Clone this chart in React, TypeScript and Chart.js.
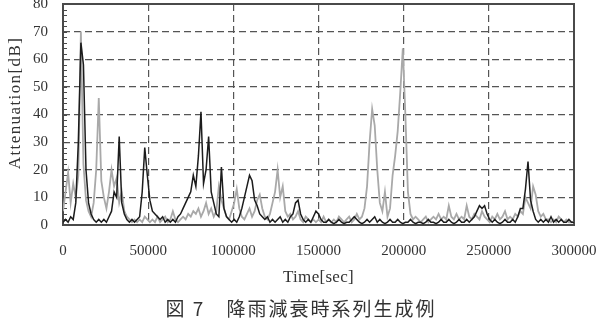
import React, { useEffect, useRef } from "react";
import { Chart, registerables } from "chart.js";

Chart.register(...registerables);

// Sampling interval of the time series (seconds)
const SAMPLE_INTERVAL_SEC = 1500;

// Dark (black) attenuation series [dB]
const darkAttenuation = [
  1, 2, 1, 3, 2, 8, 30, 66, 58, 20,
  8, 4, 2, 1, 2, 1, 2, 1, 3, 5,
  12, 10, 32, 8, 4, 2, 1, 2, 1, 2,
  3, 12, 28, 18, 9, 5, 4, 3, 2, 3,
  1, 2, 1, 2, 1, 3, 4, 6, 8, 10,
  12, 18, 14, 25, 41, 15, 20, 32, 12, 8,
  4, 3, 21, 6, 3, 2, 1, 2, 1, 3,
  6, 10, 14, 18, 16, 9, 7, 4, 3, 2,
  3, 1, 2, 1, 2, 3, 1, 2, 1, 3,
  4, 8, 9, 4, 2, 1, 2, 1, 3, 5,
  4, 2, 1, 1, 2, 1, 0.5, 1, 2, 1,
  0.5, 1, 1, 2, 3, 2, 1, 0.5, 1, 2,
  1, 2, 3, 1, 2, 1, 0.5, 1, 2, 1,
  1, 2, 1, 0.5, 1, 1, 2, 1, 0.5, 1,
  1, 0.5, 1, 2, 1, 1, 0.5, 1, 2, 1,
  1, 2, 1, 0.5, 1, 2, 1, 1, 2, 1,
  2, 3, 5, 7, 6, 7, 4, 2, 1, 2,
  1, 0.5, 1, 2, 1, 1, 2, 1, 3, 6,
  6, 13, 23, 9, 5, 2, 1, 2, 1, 2,
  1, 3, 1, 2, 1, 2, 1, 1, 2, 1,
  1,
];

// Light gray attenuation series [dB]
const grayAttenuation = [
  5, 12, 19, 8, 15, 10, 18, 70, 22, 9,
  5, 3, 8, 20, 46, 16, 10, 6, 12, 20,
  14, 17, 8, 12, 5, 3, 2, 1, 2, 1,
  2, 1, 3, 2, 1, 2, 1, 3, 1, 2,
  3, 1, 2, 5, 2, 1, 2, 3, 2, 4,
  3, 5, 4, 6, 3, 5, 8, 4, 6, 3,
  5, 14, 9, 6, 3, 2, 5, 8, 13, 6,
  3, 2, 4, 6, 3, 5, 9, 11, 6, 3,
  2, 4, 8, 12, 20, 10, 14, 5, 3, 4,
  2, 3, 5, 2, 1, 3, 2, 1, 2, 1,
  2, 1, 3, 1, 2, 1, 2, 1, 3, 2,
  1, 2, 3, 1, 2, 4, 2, 3, 6, 14,
  30, 42, 36, 20, 8, 5, 12, 3, 6, 18,
  25, 34, 48, 64, 40, 12, 4, 2, 3, 2,
  1, 2, 3, 1, 2, 3, 2, 4, 2, 3,
  2, 7, 3, 2, 4, 2, 3, 2, 7, 3,
  2, 4, 3, 2, 5, 3, 2, 1, 3, 2,
  4, 2, 3, 5, 2, 3, 2, 4, 3, 5,
  4, 10, 8, 6, 14, 11, 5, 3, 4, 2,
  2, 1, 2, 1, 3, 2, 1, 2, 1, 1,
  1,
];

const sampleTimes = darkAttenuation.map((_, i) => i * SAMPLE_INTERVAL_SEC);

const xTickValues = [0, 50000, 100000, 150000, 200000, 250000, 300000];
const yTickValues = [0, 10, 20, 30, 40, 50, 60, 70, 80];
const yMinorStep = 2;

const xTitle = "Time[sec]";
const yTitle = "Attenuation[dB]";
const caption = "図 7　降雨減衰時系列生成例";

const SERIF = "'Liberation Serif', 'Times New Roman', serif";
const CJK = "'Noto Sans CJK JP', 'Noto Sans CJK SC', sans-serif";
const TEXT_COLOR = "#333";
const GRID_COLOR = "#555";

const frameAndTextPlugin = {
  id: "frameAndText",
  beforeDatasetsDraw(chart: any) {
    const { ctx, chartArea: a } = chart;
    const yScale = chart.scales.y;
    ctx.save();
    ctx.strokeStyle = "#4a4a4a";
    ctx.lineWidth = 1;
    const yMax = yTickValues[yTickValues.length - 1];
    for (let v = 0; v <= yMax; v += yMinorStep) {
      const py = Math.round(yScale.getPixelForValue(v)) + 0.5;
      ctx.beginPath();
      ctx.moveTo(a.left, py);
      ctx.lineTo(a.left + 4, py);
      ctx.stroke();
    }
    ctx.lineWidth = 2;
    ctx.strokeStyle = "#4a4a4a";
    ctx.strokeRect(a.left, a.top, a.right - a.left, a.bottom - a.top);
    ctx.restore();
  },
  afterDraw(chart: any) {
    const { ctx, chartArea: a } = chart;
    ctx.save();
    ctx.fillStyle = TEXT_COLOR;
    ctx.textBaseline = "middle";
    ctx.textAlign = "center";
    ctx.font = `17px ${SERIF}`;
    (ctx as any).letterSpacing = "0.3px";
    ctx.fillText(xTitle, (a.left + a.right) / 2, 278);
    ctx.restore();

    ctx.save();
    ctx.fillStyle = TEXT_COLOR;
    ctx.textBaseline = "middle";
    ctx.textAlign = "center";
    ctx.font = `17px ${SERIF}`;
    (ctx as any).letterSpacing = "1.4px";
    ctx.translate(16, 103);
    ctx.rotate(-Math.PI / 2);
    ctx.fillText(yTitle, 0, 0);
    ctx.restore();

    ctx.save();
    ctx.fillStyle = TEXT_COLOR;
    ctx.textBaseline = "middle";
    ctx.textAlign = "center";
    ctx.font = `19px ${CJK}`;
    (ctx as any).letterSpacing = "2px";
    ctx.fillText(caption, 301, 309);
    ctx.restore();
  },
};

export default function App() {
  const canvasRef = useRef<HTMLCanvasElement | null>(null);

  useEffect(() => {
    document.body.style.margin = "0";
    const canvas = canvasRef.current;
    if (!canvas) return;

    const chart = new Chart(canvas, {
      type: "line",
      data: {
        datasets: [
          {
            label: "dark",
            data: sampleTimes.map((t, i) => ({ x: t, y: darkAttenuation[i] })),
            borderColor: "#1c1c1c",
            borderWidth: 1.5,
            pointRadius: 0,
            tension: 0,
            fill: false,
          },
          {
            label: "gray",
            data: sampleTimes.map((t, i) => ({ x: t, y: grayAttenuation[i] })),
            borderColor: "#a9a9a9",
            borderWidth: 1.8,
            pointRadius: 0,
            tension: 0,
            fill: false,
          },
        ],
      },
      options: {
        animation: false,
        responsive: false,
        maintainAspectRatio: false,
        layout: { padding: { left: 0, right: 26, top: 4, bottom: 0 } },
        plugins: {
          legend: { display: false },
          tooltip: { enabled: false },
        },
        scales: {
          x: {
            type: "linear",
            position: "bottom",
            min: xTickValues[0],
            max: xTickValues[xTickValues.length - 1],
            afterBuildTicks: (ax: any) => {
              ax.ticks = xTickValues.map((v) => ({ value: v }));
            },
            ticks: {
              font: { family: SERIF, size: 15 },
              color: TEXT_COLOR,
              padding: 17,
              maxRotation: 0,
              autoSkip: false,
              callback: (v: any) => String(v),
            },
            grid: { color: GRID_COLOR, lineWidth: 1.2, drawTicks: false },
            border: { display: false, dash: [7, 4] },
            afterFit: (ax: any) => {
              ax.height = 105;
              ax.paddingLeft = 0;
              ax.paddingRight = 0;
            },
          },
          y: {
            type: "linear",
            min: yTickValues[0],
            max: yTickValues[yTickValues.length - 1],
            afterBuildTicks: (ax: any) => {
              ax.ticks = yTickValues.map((v) => ({ value: v }));
            },
            ticks: {
              font: { family: SERIF, size: 15 },
              color: TEXT_COLOR,
              padding: 15,
              callback: (v: any) => String(v),
            },
            grid: { color: GRID_COLOR, lineWidth: 1.2, drawTicks: false },
            border: { display: false, dash: [7, 4] },
            afterFit: (ax: any) => {
              ax.width = 63;
              ax.paddingTop = 0;
              ax.paddingBottom = 0;
            },
          },
        },
      } as any,
      plugins: [frameAndTextPlugin],
    });

    return () => chart.destroy();
  }, []);

  return (
    <div style={{ width: 600, height: 330, background: "#fff" }}>
      <canvas ref={canvasRef} width={600} height={330} style={{ display: "block" }} />
    </div>
  );
}
